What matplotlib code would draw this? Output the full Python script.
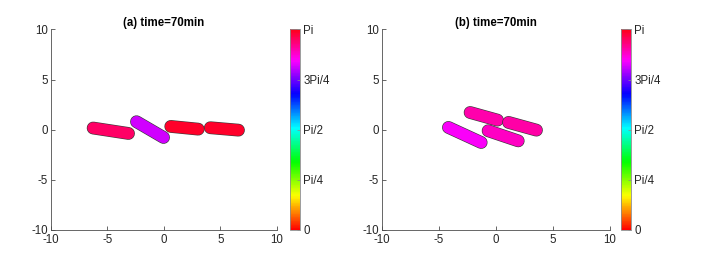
import matplotlib
matplotlib.use("Agg")
import matplotlib.pyplot as plt
import numpy as np

plt.rcParams["font.family"] = ["Liberation Sans", "DejaVu Sans"]
plt.rcParams["axes.unicode_minus"] = False

# rod axis end points (cap centres) in data units, and orientation as a fraction of pi
left_x1 = [-6.27, -2.43, 0.60, 4.10]
left_y1 = [0.17, 0.80, 0.33, 0.20]
left_x2 = [-3.14, -0.04, 3.03, 6.59]
left_y2 = [-0.37, -0.77, 0.06, -0.04]
left_theta = [0.946, 0.815, 0.985, 0.985]

right_x1 = [-2.27, 1.10, -4.17, -0.69]
right_y1 = [1.72, 0.73, 0.23, -0.10]
right_x2 = [0.13, 3.55, -1.30, 1.95]
right_y2 = [0.96, -0.04, -1.27, -1.11]
right_theta = [0.902, 0.903, 0.847, 0.884]

titles = ["(a) time=70min", "(b) time=70min"]
axis_ticks = [-10, -5, 0, 5, 10]
cbar_ticks = [0, np.pi / 4, np.pi / 2, 3 * np.pi / 4, np.pi]
cbar_labels = ["0", "Pi/4", "Pi/2", "3Pi/4", "Pi"]

TEXT = "#262626"
cmap = plt.get_cmap("hsv")
norm = matplotlib.colors.Normalize(0, np.pi)


def draw_panel(ax, cax, x1, y1, x2, y2, theta, title):
    for a, b, c, d, t in zip(x1, y1, x2, y2, theta):
        ax.plot([a, c], [b, d], color="#3a3a3a", lw=9.2, solid_capstyle="round")
        ax.plot([a, c], [b, d], color=cmap(norm(t * np.pi)), lw=8.3, solid_capstyle="round")
    ax.set_xlim(-10, 10)
    ax.set_ylim(-10, 10)
    ax.set_xticks(axis_ticks)
    ax.set_yticks(axis_ticks)
    for side in ("top", "right"):
        ax.spines[side].set_visible(False)
    for side in ("left", "bottom"):
        ax.spines[side].set_color("#4d4d4d")
        ax.spines[side].set_linewidth(0.6)
    ax.tick_params(direction="in", length=3, width=0.6, color="#4d4d4d",
                   labelsize=8.3, labelcolor=TEXT)
    ax.tick_params(axis="x", pad=3)
    ax.tick_params(axis="y", pad=2)
    ax.set_title(title, fontsize=8.3, fontweight="bold", color="black", pad=2)

    sm = matplotlib.cm.ScalarMappable(norm=norm, cmap=cmap)
    cb = plt.colorbar(sm, cax=cax, ticks=cbar_ticks)
    cb.set_ticklabels(cbar_labels)
    cb.outline.set_edgecolor("#8c8c8c")
    cb.outline.set_linewidth(0.6)
    cax.tick_params(direction="in", length=2, width=0.5, color="#8c8c8c",
                    labelsize=8.3, labelcolor=TEXT, pad=2)


fig = plt.figure(figsize=(7.07, 2.64), dpi=100)
ax1 = fig.add_axes([0.0721, 0.1288, 0.3197, 0.7595])
cax1 = fig.add_axes([0.4102, 0.1288, 0.0148, 0.7595])
ax2 = fig.add_axes([0.5403, 0.1288, 0.3225, 0.7595])
cax2 = fig.add_axes([0.8784, 0.1288, 0.0148, 0.7595])

draw_panel(ax1, cax1, left_x1, left_y1, left_x2, left_y2, left_theta, titles[0])
draw_panel(ax2, cax2, right_x1, right_y1, right_x2, right_y2, right_theta, titles[1])

fig.savefig("out.png", dpi=100)
